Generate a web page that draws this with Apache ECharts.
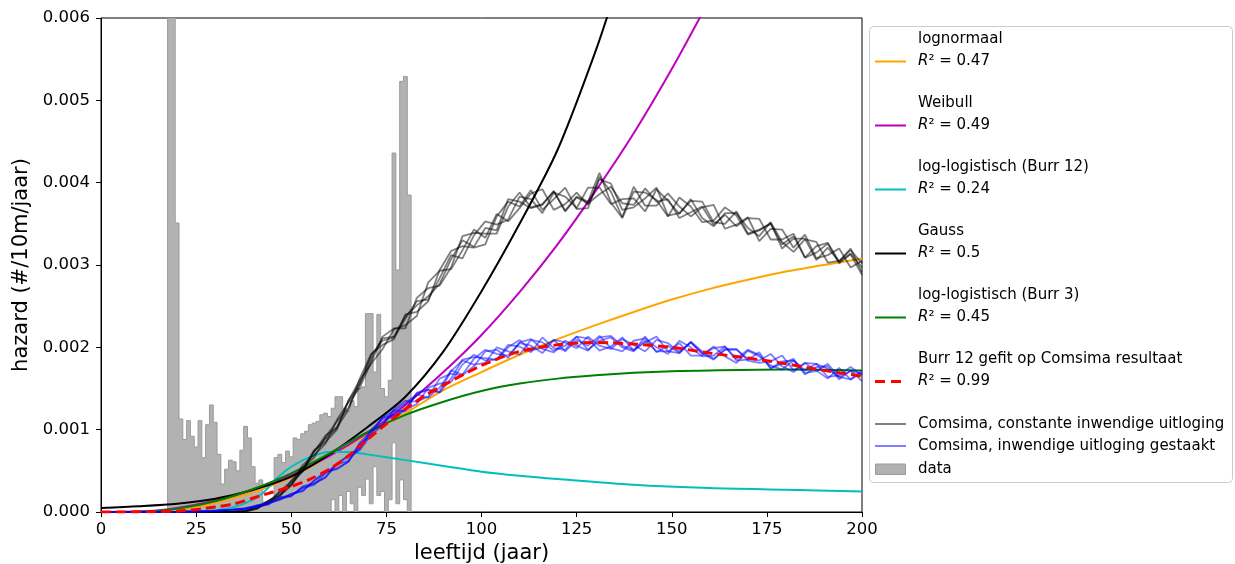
<!DOCTYPE html>
<html><head><meta charset="utf-8">
<script src="https://cdn.jsdelivr.net/npm/echarts@6/dist/echarts.min.js"></script>
<style>html,body{margin:0;padding:0;background:#fff}#c{width:1235px;height:564px}</style>
</head><body><div id="c"></div>
<script>
// all hazard values below are in units of 1e-5 (#/10m/jaar)
const HAZARD_UNIT = 1e-5;

const xTicks = [0, 25, 50, 75, 100, 125, 150, 175, 200];
const yTicks = [0, 0.001, 0.002, 0.003, 0.004, 0.005, 0.006];

// histogram "data" : bin centre (age), lower and upper edge of filled step
const histAges = [18,19,20,21,22,23,24,25,26,27,28,29,30,31,32,33,34,35,36,37,38,39,40,41,42,43,44,45,46,47,48,49,50,51,52,53,54,55,56,57,58,59,60,61,62,63,64,65,66,67,68,69,70,71,72,73,74,75,76,77,78,79,80,81];
const histUpper = [750,750,351,113,88,111,92,79,111,66,
  106,130,109,70,34,52,63,61,50,75,
  104,90,55,35,39,12,12,15,66,70,
  60,74,67,90,88,95,98,106,108,110,
  118,120,116,126,140,140,126,123,135,128,
  150,152,241,241,170,240,150,140,160,436,
  294,523,529,385];
const histLower = [0,0,0,0,0,0,0,0,0,0,
  0,0,0,0,0,0,0,0,0,0,
  0,0,0,0,0,0,0,0,0,0,
  0,0,0,0,0,0,0,0,0,0,
  0,0,0,15,0,20,0,25,10,0,
  30,20,40,10,55,20,25,0,15,84,
  10,39,15,0];

// fitted curves
const lognormAges = [0,10,20,25,30,40,50,60,70,80,90,100,110,120,130,140,150,160,170,180,190,200];
const lognormVals = [0,0.5,3,6,11,24,42,68,94,120,148,170,191,210,227,243,258,271,282,292,300,308];
const weibullAges = [0,10,20,30,40,50,60,70,80,90,100,110,120,130,140,150,160];
const weibullVals = [0,0.5,5,14,27,45,68,96,130,170,215,267,325,390,460,538,623];
const burr12Ages = [0,20,30,35,40,43,46,50,55,60,65,70,80,90,100,110,120,140,160,180,200];
const burr12Vals = [0,0.1,2,6,15,25,40,55,67,73,73,70,63,56,49,44,40,33,29,27,25];
const gaussAges = [0,10,20,30,40,50,60,70,80,90,100,110,120,130,135];
const gaussVals = [5,7,10,16,27,43,70,103,140,195,268,350,440,560,630];
const burr3Ages = [0,10,20,30,40,50,60,70,80,90,100,110,120,130,140,150,160,180,200];
const burr3Vals = [0,0.3,4,13,28,47,71,97,118,134,147,156,162,166,169,171,172,173,172];
const burrFitAges = [0,20,30,35,40,45,50,55,60,65,70,75,80,85,90,100,110,120,130,140,150,160,170,180,190,200];
const burrFitVals = [0,1,6,10,17,24,31,40,52,68,88,107,125,141,154,178,195,203,206,204,200,193,187,180,172,165];

// Comsima runs
const comsimaAges = [0,20,29,32,35,38,41,44,47,50,53,56,59,62,65,68,71,74,77,80,83,86,89,92,95,98,101,104,107,110,113,116,119,122,125,128,131,134,137,140,143,146,149,152,155,158,161,164,167,170,173,176,179,182,185,188,191,194,197,200];
const grayRun1 = [0,0,0,0,0,1,6,10,25,37,49,73,93,103,124,162,192,203,210,240,243,256,294,317,323,321,325,359,377,371,391,367,380,394,368,369,407,389,358,395,372,372,387,371,359,370,373,344,349,358,329,344,343,321,337,308,312,320,297,305];
const grayRun2 = [0,0,0,0,0,1,4,14,21,33,57,69,83,112,133,151,182,213,223,223,260,272,275,297,335,339,338,338,371,388,370,374,389,366,383,377,412,376,357,389,388,379,359,382,371,352,354,370,360,337,342,351,320,332,332,306,321,304,320,291];
const grayRun3 = [0,0,0,0,0,2,5,11,19,38,54,66,91,110,126,156,191,208,212,235,256,258,284,312,308,336,353,349,355,383,380,363,388,383,369,394,394,374,380,381,365,392,378,362,380,357,347,363,363,345,335,352,328,316,331,328,303,305,318,302];
const grayRun4 = [0,0,0,0,0,1,7,13,20,32,52,75,85,100,135,160,180,198,222,227,238,279,293,295,318,343,333,362,353,369,387,392,367,374,388,373,404,399,367,370,381,394,360,363,378,377,352,350,365,338,343,350,325,335,309,315,326,302,313,288];
const grayRun5 = [0,0,0,0,0,0,4,13,24,34,50,74,89,102,135,155,187,211,213,238,251,262,277,307,330,322,345,342,380,377,369,373,390,365,382,375,386,395,375,373,393,377,380,357,364,371,349,361,347,357,356,331,331,338,309,323,327,304,314,297];
const blueRun1 = [0,0,1,2,3,4,8,10,15,22,26,38,48,52,61,84,98,105,123,132,143,139,151,172,167,186,197,192,190,205,202,193,209,206,199,213,202,198,210,203,195,209,205,195,206,193,185,197,197,186,184,192,177,170,181,180,164,166,176,166];
const blueRun2 = [0,0,1,2,3,4,6,11,16,19,31,35,42,59,67,75,94,115,123,123,145,149,145,162,185,188,187,185,200,209,196,200,209,195,209,202,214,199,195,208,211,200,192,208,200,189,190,201,186,197,191,175,180,186,167,176,177,161,172,159];
const blueRun3 = [0,0,1,2,3,5,7,9,18,20,29,33,47,58,62,78,100,113,116,124,144,148,146,171,184,179,181,200,195,191,209,206,196,202,213,197,208,212,200,195,213,194,202,193,206,192,199,201,184,185,194,174,183,184,169,171,180,164,171,168];
const blueRun4 = [0,0,1,2,3,4,8,11,15,22,25,38,49,53,61,83,93,106,125,135,134,140,162,168,166,177,195,197,187,206,210,198,194,208,202,196,212,214,202,197,208,195,195,205,190,190,201,189,181,196,189,178,173,184,172,180,174,164,161,172];
const blueRun5 = [0,0,1,2,3,3,7,11,17,20,30,34,42,58,69,77,97,115,118,125,131,151,156,158,179,191,184,185,203,201,194,212,199,197,213,211,196,201,212,196,206,213,195,193,207,195,186,198,198,184,181,183,190,172,181,172,162,175,161,169];

// legend text
const fitNames = ['lognormaal','Weibull','log-logistisch (Burr 12)','Gauss','log-logistisch (Burr 3)','Burr 12 gefit op Comsima resultaat'];
const fitR2 = ['0.47','0.49','0.24','0.5','0.45','0.99'];
const grayName = 'Comsima, constante inwendige uitloging';
const blueName = 'Comsima, inwendige uitloging gestaakt';
const dataName = 'data';

// ---------- styles ----------
const FONT = 'DejaVu Sans';
const fitColors = ['#ffa500','#bf00bf','#00bfbf','#000000','#008000','#ff0000'];
const GRAY_RUN = 'rgba(0,0,0,0.5)';
const BLUE_RUN = 'rgba(0,0,255,0.5)';
const HIST_FILL = '#b2b2b2';
const HIST_EDGE = '#9a9a9a';
const Y_MAX = 0.006;

function pairs(ages, vals) { return ages.map((a, k) => [a, vals[k] * HAZARD_UNIT]); }

function fitLine(name, ages, vals, color, extra) {
  return Object.assign({
    type: 'line', name, data: pairs(ages, vals), showSymbol: false, symbol: 'none',
    smooth: 0.3, clip: true, silent: true, animation: false,
    lineStyle: { color, width: 2 }, itemStyle: { color }
  }, extra || {});
}
function runLine(name, vals, color) {
  return {
    type: 'line', name, data: pairs(comsimaAges, vals), showSymbol: false, symbol: 'none',
    clip: true, silent: true, animation: false,
    lineStyle: { color, width: 1.8 }, itemStyle: { color }
  };
}

const histData = histAges.map((a, k) => [a, histLower[k] * HAZARD_UNIT, histUpper[k] * HAZARD_UNIT]);

// the whole step-filled histogram is drawn as one polygon (no seams between bins)
const histSeries = {
  type: 'custom', name: dataName, data: histData, clip: true, silent: true, animation: false, z: 1,
  encode: { x: 0, y: [1, 2] },
  renderItem: function (params, api) {
    if (params.dataIndex !== 0) return { type: 'group', children: [] };
    const top = [], bot = [];
    histData.forEach(d => {
      const up = Math.min(d[2], Y_MAX), lo = Math.min(d[1], Y_MAX);
      top.push(api.coord([d[0] - 0.5, up]), api.coord([d[0] + 0.5, up]));
      bot.push(api.coord([d[0] - 0.5, lo]), api.coord([d[0] + 0.5, lo]));
    });
    const outline = [bot[0]].concat(top, [bot[bot.length - 1]]);
    const poly = top.concat(bot.slice().reverse());
    return {
      type: 'group', children: [
        { type: 'polygon', shape: { points: poly }, style: { fill: HIST_FILL, stroke: null } },
        { type: 'polyline', shape: { points: outline }, style: { stroke: HIST_EDGE, lineWidth: 1, fill: null } },
        { type: 'polyline', shape: { points: bot }, style: { stroke: HIST_EDGE, lineWidth: 1, fill: null } }
      ]
    };
  }
};

const series = [
  histSeries,
  fitLine(fitNames[0], lognormAges, lognormVals, fitColors[0]),
  fitLine(fitNames[1], weibullAges, weibullVals, fitColors[1]),
  fitLine(fitNames[2], burr12Ages, burr12Vals, fitColors[2]),
  fitLine(fitNames[3], gaussAges, gaussVals, fitColors[3]),
  fitLine(fitNames[4], burr3Ages, burr3Vals, fitColors[4]),
  fitLine(fitNames[5], burrFitAges, burrFitVals, fitColors[5], { lineStyle: { color: fitColors[5], width: 3, type: [10, 5] }, z: 4 }),
  runLine(grayName, grayRun1, GRAY_RUN), runLine(grayName, grayRun2, GRAY_RUN), runLine(grayName, grayRun3, GRAY_RUN),
  runLine(grayName, grayRun4, GRAY_RUN), runLine(grayName, grayRun5, GRAY_RUN),
  runLine(blueName, blueRun1, BLUE_RUN), runLine(blueName, blueRun2, BLUE_RUN), runLine(blueName, blueRun3, BLUE_RUN),
  runLine(blueName, blueRun4, BLUE_RUN), runLine(blueName, blueRun5, BLUE_RUN)
];

// ---------- legend (drawn as graphics, matplotlib style) ----------
const LEG = { x: 869.5, y: 26.5, w: 363, h: 456, hx0: 875, hx1: 906, tx: 918, firstY: 39, step: 64, sub: 22.5, singleY: [424, 446, 469] };
const legendEls = [{
  type: 'rect', shape: { x: LEG.x, y: LEG.y, width: LEG.w, height: LEG.h, r: 4 },
  style: { fill: 'rgba(255,255,255,0.8)', stroke: '#cccccc', lineWidth: 1 }, z: 100
}];
function legText(x, y, text, rich) {
  const st = { text, fill: '#000', fontSize: 15, fontFamily: FONT, align: 'left', verticalAlign: 'middle' };
  if (rich) st.rich = rich;
  return { type: 'text', x, y, style: st, z: 101 };
}
const r2Rich = { i: { fontStyle: 'italic', fontSize: 15, fontFamily: FONT, fill: '#000' }, n: { fontSize: 15, fontFamily: FONT, fill: '#000' } };
fitNames.forEach((nm, k) => {
  const y1 = LEG.firstY + LEG.step * k, y2 = y1 + LEG.sub;
  legendEls.push(legText(LEG.tx, y1, nm));
  legendEls.push(legText(LEG.tx, y2, '{i|R}{n|² = ' + fitR2[k] + '}', r2Rich));
  const ls = { stroke: fitColors[k], lineWidth: k === 5 ? 3 : 2 };
  if (k === 5) ls.lineDash = [10, 6];
  legendEls.push({ type: 'line', shape: { x1: LEG.hx0, y1: y2, x2: LEG.hx1, y2: y2 }, style: ls, z: 101 });
});
legendEls.push({ type: 'line', shape: { x1: LEG.hx0, y1: LEG.singleY[0], x2: LEG.hx1, y2: LEG.singleY[0] }, style: { stroke: '#808080', lineWidth: 2 }, z: 101 });
legendEls.push(legText(LEG.tx, LEG.singleY[0], grayName));
legendEls.push({ type: 'line', shape: { x1: LEG.hx0, y1: LEG.singleY[1], x2: LEG.hx1, y2: LEG.singleY[1] }, style: { stroke: '#8080ff', lineWidth: 2 }, z: 101 });
legendEls.push(legText(LEG.tx, LEG.singleY[1], blueName));
legendEls.push({ type: 'rect', shape: { x: LEG.hx0 + 0.5, y: LEG.singleY[2] - 5, width: 30, height: 10.5 }, style: { fill: HIST_FILL, stroke: HIST_EDGE, lineWidth: 1 }, z: 101 });
legendEls.push(legText(LEG.tx, LEG.singleY[2], dataName));

const chart = echarts.init(document.getElementById('c'), null, { renderer: 'canvas' });
chart.setOption({
  animation: false,
  backgroundColor: '#ffffff',
  textStyle: { fontFamily: FONT },
  grid: { left: 101, right: 373, top: 18, bottom: 52, containLabel: false, outerBoundsMode: 'none',
    show: true, borderColor: '#000', borderWidth: 1, backgroundColor: 'transparent' },
  xAxis: {
    type: 'value', min: xTicks[0], max: xTicks[xTicks.length - 1], interval: xTicks[1] - xTicks[0],
    name: 'leeftijd (jaar)', nameLocation: 'middle', nameGap: 28,
    nameTextStyle: { fontSize: 21, color: '#000', fontFamily: FONT },
    axisLine: { show: true, onZero: false, lineStyle: { color: '#000', width: 1 } },
    axisTick: { show: true, inside: false, length: 5, lineStyle: { color: '#000' } },
    axisLabel: { fontSize: 16.5, color: '#000', margin: 9, fontFamily: FONT },
    splitLine: { show: false }
  },
  yAxis: {
    type: 'value', min: yTicks[0], max: yTicks[yTicks.length - 1], interval: yTicks[1] - yTicks[0],
    name: 'hazard (#/10m/jaar)', nameLocation: 'middle', nameGap: 69,
    nameTextStyle: { fontSize: 21, color: '#000', fontFamily: FONT },
    axisLine: { show: true, onZero: false, lineStyle: { color: '#000', width: 1 } },
    axisTick: { show: true, inside: false, length: 5, lineStyle: { color: '#000' } },
    axisLabel: { fontSize: 16.5, color: '#000', margin: 11, fontFamily: FONT, formatter: v => v.toFixed(3) },
    splitLine: { show: false }
  },
  legend: { show: false },
  tooltip: { show: false },
  series,
  graphic: { elements: legendEls }
});
</script>
</body></html>
